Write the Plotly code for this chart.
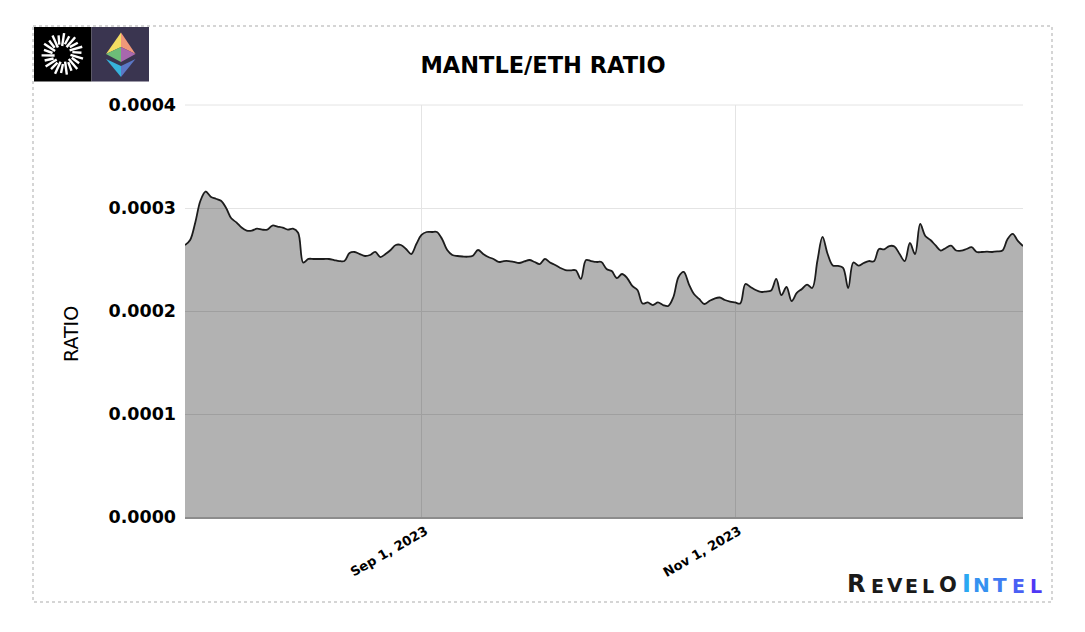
import math
import pandas as pd
import plotly.graph_objects as go

start_date = "2023-07-17"
ratio = [
0.000264,0.000269,0.000286,0.000307,0.000316,0.000311,0.000309,0.000307,0.000300,0.000290,
0.000286,0.000281,0.000278,0.000278,0.000280,0.000279,0.000279,0.000283,0.000282,0.000281,
0.000279,0.000280,0.000276,0.000247,0.0002505,0.0002505,0.0002505,0.0002505,0.0002505,0.0002495,
0.0002485,0.0002485,0.0002563,0.0002573,0.0002553,0.0002534,0.0002544,0.0002573,0.0002524,0.0002553,
0.0002592,0.0002641,0.0002641,0.0002602,0.0002553,0.000265,0.0002738,0.0002767,0.0002767,0.0002767,
0.0002699,0.0002592,0.0002544,0.0002534,0.0002529,0.0002527,0.0002537,0.0002592,0.0002553,0.0002524,
0.0002505,0.0002476,0.0002485,0.0002485,0.0002476,0.0002466,0.0002481,0.0002495,0.0002476,0.0002456,
0.0002505,0.0002471,0.0002447,0.0002418,0.0002398,0.0002395,0.0002395,0.0002311,0.0002495,0.0002485,
0.0002476,0.0002476,0.0002408,0.0002388,0.000232,0.0002359,0.000232,0.0002243,0.0002204,0.0002073,
0.0002083,0.0002058,0.0002083,0.0002058,0.0002049,0.0002136,0.000233,0.0002379,0.0002262,0.0002165,
0.0002117,0.0002068,0.0002097,0.0002121,0.0002131,0.0002107,0.0002092,0.0002083,0.0002073,0.0002262,
0.0002233,0.0002204,0.0002185,0.0002189,0.0002199,0.0002311,0.0002155,0.0002233,0.0002097,0.0002175,
0.0002214,0.0002257,0.0002223,0.0002485,0.0002719,0.0002553,0.0002442,0.0002437,0.0002418,0.0002223,
0.0002471,0.000244,0.0002466,0.0002485,0.0002483,0.0002602,0.0002599,0.0002631,0.0002626,0.0002553,
0.0002485,0.000266,0.0002553,0.0002845,0.0002728,0.0002689,0.0002636,0.0002587,0.0002612,0.0002634,
0.0002587,0.0002586,0.0002602,0.0002619,0.0002573,0.0002573,0.0002576,0.0002573,0.0002578,0.0002587,
0.0002699,0.0002748,0.000268,0.0002631,
]
x_tick_dates = ["2023-09-01", "2023-11-01"]
x_tick_labels = ["Sep 1, 2023", "Nov 1, 2023"]
y_tick_values = [0, 0.0001, 0.0002, 0.0003, 0.0004]
title_text = "MANTLE/ETH RATIO"
y_title = "RATIO"
brand_letters = ["R", "E", "V", "E", "L", "O", "I", "N", "T", "E", "L"]
brand_colors = ["#1a1a1a"] * 6 + ["#2aa8f2", "#3592f0", "#3f7cf2", "#4a60f4", "#4f38f5"]
brand_sizes = [24, 19, 20, 19, 19, 21, 24, 20, 20, 19, 19]
brand_centers = [856, 877, 895, 911, 927.5, 947.5, 966.5, 981, 999.5, 1018.5, 1036]

dates = pd.date_range(start_date, periods=len(ratio), freq="D")
FONT = "DejaVu Sans"

W, H = 1085, 632
L, R, T, B = 185, 1023, 105, 517
def px(x): return (x - L) / (R - L)
def py(y): return (B - y) / (B - T)

def rect(x0, y0, x1, y1, **kw):
    return dict(type="rect", xref="paper", yref="paper", x0=px(x0), x1=px(x1), y0=py(y0), y1=py(y1), **kw)

def poly(points, color):
    d = "M " + " L ".join(f"{px(a):.5f} {py(b):.5f}" for a, b in points) + " Z"
    return dict(type="path", xref="paper", yref="paper", path=d, fillcolor=color, line=dict(width=0), layer="above")

shapes = [
    rect(33, 26, 1052, 602, line=dict(color="#c8c8c8", width=1.5, dash="dot"), layer="below"),
    dict(type="line", xref="paper", yref="paper", x0=0, x1=1, y0=1, y1=1, line=dict(color="#e4e4e4", width=1), layer="below"),
    rect(34, 27, 91.5, 81.5, fillcolor="#000000", line=dict(width=0), layer="above"),
    rect(91.5, 27, 149, 81.5, fillcolor="#3a3550", line=dict(width=0), layer="above"),
]
cx, cy = 62.5, 54
for i in range(22):
    a = 2 * math.pi * i / 22 + 0.1
    r0, r1 = (8, 21) if i % 2 == 0 else (10, 19)
    s = a + 0.12
    shapes.append(dict(type="line", xref="paper", yref="paper",
                       x0=px(cx + r0 * math.cos(a)), y0=py(cy + r0 * math.sin(a)),
                       x1=px(cx + r1 * math.cos(s)), y1=py(cy + r1 * math.sin(s)),
                       line=dict(color="#ffffff", width=2.4), layer="above"))
shapes += [
    poly([(121, 32.5), (106, 54), (121, 47)], "#f4dd62"),
    poly([(121, 32.5), (135.5, 54), (121, 47)], "#f0987a"),
    poly([(106, 54), (121, 47), (121, 62)], "#6dbd78"),
    poly([(135.5, 54), (121, 47), (121, 62)], "#a868ae"),
    poly([(106, 59), (121, 66), (121, 77)], "#37b3dc"),
    poly([(135.5, 59), (121, 66), (121, 77)], "#5b78c6"),
]

annotations = [dict(
    xref="paper", yref="paper", x=px(70.5), y=py(334.5), xanchor="center", yanchor="middle", showarrow=False,
    text=y_title, textangle=-90, font=dict(size=19, family=FONT, color="#000000"),
)]
for ch, col, size, c in zip(brand_letters, brand_colors, brand_sizes, brand_centers):
    annotations.append(dict(
        xref="paper", yref="paper", x=px(c), y=py(592 + 0.24 * size), xanchor="center", yanchor="bottom",
        showarrow=False, text=f"<b>{ch}</b>", font=dict(size=size, family=FONT, color=col), borderpad=0, borderwidth=0,
    ))

fig = go.Figure(go.Scatter(
    x=dates, y=ratio, mode="lines",
    line=dict(color="#1c1c1c", width=1.8, shape="spline", smoothing=1.0),
    fill="tozeroy", fillcolor="rgba(0,0,0,0.3)", hoverinfo="x+y",
))
fig.update_layout(
    width=W, height=H, autosize=False,
    margin=dict(l=L, r=W - R, t=T, b=H - B, pad=0),
    paper_bgcolor="#ffffff", plot_bgcolor="#ffffff",
    showlegend=False, shapes=shapes, annotations=annotations,
    font=dict(family=FONT, color="#000000"),
    title=dict(text=f"<b>{title_text}</b>", x=543 / W, xanchor="center", y=1 - 65 / H, yanchor="middle",
               font=dict(size=22.5, family=FONT, color="#000000")),
    xaxis=dict(
        range=[dates[0], dates[-1]], tickvals=x_tick_dates, ticktext=[f"<b>{t}</b>" for t in x_tick_labels],
        tickangle=-30, tickfont=dict(size=13, family=FONT, color="#000000"), ticklabelstandoff=0, ticklabelshift=4,
        showgrid=True, gridcolor="#e4e4e4", gridwidth=1, zeroline=False,
        showline=True, linecolor="#8c8c8c", linewidth=1.5, ticks="",
    ),
    yaxis=dict(
        range=[0, 0.0004], tickvals=y_tick_values, ticktext=[f"<b>{v:.4f}</b>" for v in y_tick_values],
        tickfont=dict(size=17.5, family=FONT, color="#000000"), ticklabelstandoff=8,
        showgrid=True, gridcolor="#e4e4e4", gridwidth=1, zeroline=False, showline=False, ticks="",
    ),
)
fig.write_html("out.html", config=dict(displayModeBar=False),
               post_script="document.body.style.margin='0';document.documentElement.style.overflow='hidden';")
